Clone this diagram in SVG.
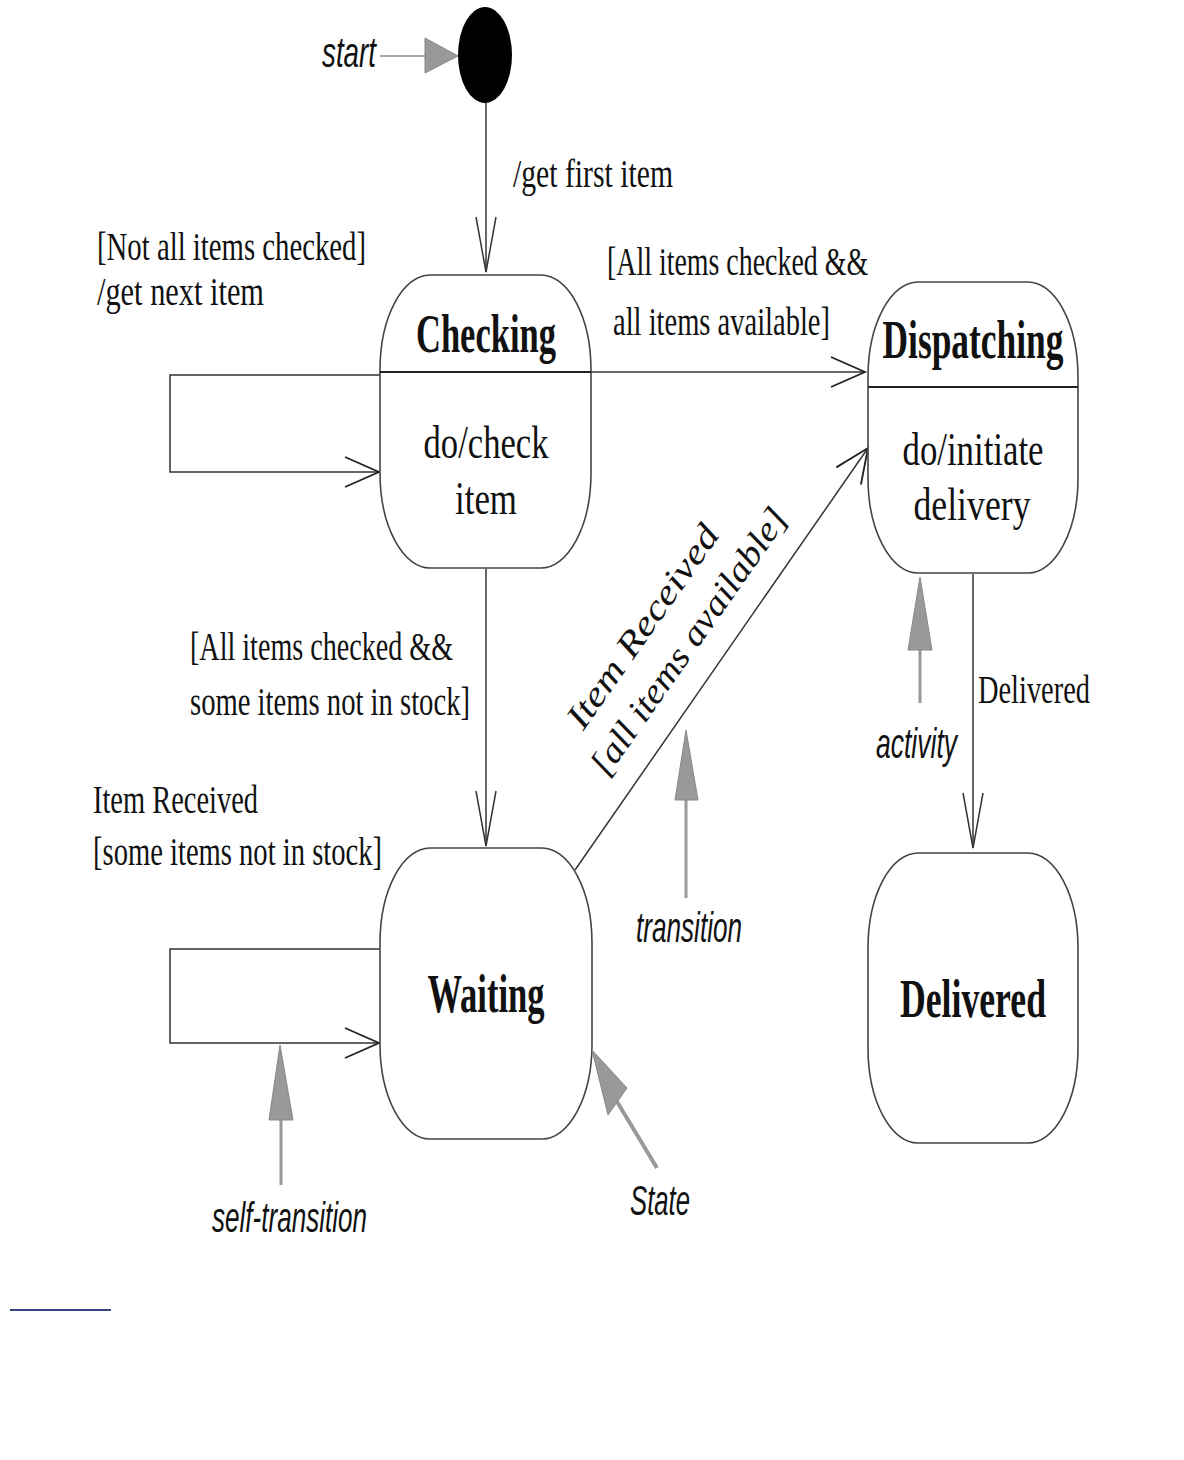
<svg xmlns="http://www.w3.org/2000/svg" width="1184" height="1460" viewBox="0 0 1184 1460">
<style>
.state{fill:#fff;stroke:#444;stroke-width:1.6}
.div{stroke:#222;stroke-width:1.8}
.tr{fill:none;stroke:#333;stroke-width:1.5}
.lbl{font-family:"Liberation Serif",serif;font-size:41px;fill:#111}
.ilbl{font-family:"Liberation Serif",serif;font-style:italic;font-size:35px;fill:#111}
.name{font-family:"Liberation Serif",serif;font-weight:bold;font-size:54px;fill:#111}
.act{font-family:"Liberation Serif",serif;font-size:46px;fill:#111}
.ann{font-family:"Liberation Sans",sans-serif;font-style:italic;font-size:42px;fill:#111}
.gl{stroke:#999;stroke-width:3;fill:none}
.gh{fill:#999;stroke:#888;stroke-width:1}
</style>
<defs>
<marker id="vv" markerUnits="userSpaceOnUse" viewBox="-60 -20 70 40" refX="0" refY="0" markerWidth="70" markerHeight="40" orient="auto">
<path d="M-55,-10 L0,0 L-55,10" fill="none" stroke="#333" stroke-width="1.5"/>
</marker>
<marker id="vh" markerUnits="userSpaceOnUse" viewBox="-40 -20 50 40" refX="0" refY="0" markerWidth="50" markerHeight="40" orient="auto">
<path d="M-34,-15 L0,0 L-34,15" fill="none" stroke="#222" stroke-width="1.8"/>
</marker>
</defs>

<g id="connectors">
<line x1="486" y1="103" x2="486" y2="272" class="tr" stroke="#777" marker-end="url(#vv)"/>
<polyline points="380,375 170,375 170,472 379,472" class="tr" stroke="#222" stroke-width="1.8" marker-end="url(#vh)"/>
<line x1="591" y1="372" x2="865" y2="372" class="tr" stroke="#222" stroke-width="1.8" marker-end="url(#vh)"/>
<line x1="486" y1="569" x2="486" y2="846" class="tr" stroke="#666" marker-end="url(#vv)"/>
<line x1="575" y1="870" x2="868" y2="448" class="tr" stroke="#555" stroke-width="1.3" marker-end="url(#vh)"/>
<polyline points="380,949 170,949 170,1043 379,1043" class="tr" stroke="#222" stroke-width="1.8" marker-end="url(#vh)"/>
<line x1="973" y1="574" x2="973" y2="848" class="tr" stroke="#777" marker-end="url(#vv)"/>
</g>

<g id="start">
<ellipse cx="485" cy="55" rx="27" ry="48" fill="#000"/>
</g>

<g id="checking">
<rect x="380" y="275" width="211" height="293" rx="50" ry="95" class="state"/>
<line x1="380" y1="372" x2="591" y2="372" class="div"/>
<text x="486" y="352" text-anchor="middle" class="name" textLength="140" lengthAdjust="spacingAndGlyphs">Checking</text>
<text x="486" y="458" text-anchor="middle" class="act" textLength="125" lengthAdjust="spacingAndGlyphs">do/check</text>
<text x="486" y="514" text-anchor="middle" class="act" textLength="62" lengthAdjust="spacingAndGlyphs">item</text>
</g>

<g id="dispatching">
<rect x="868" y="282" width="210" height="291" rx="50" ry="95" class="state"/>
<line x1="868" y1="387" x2="1078" y2="387" class="div"/>
<text x="973" y="358" text-anchor="middle" class="name" textLength="181" lengthAdjust="spacingAndGlyphs">Dispatching</text>
<text x="973" y="465" text-anchor="middle" class="act" textLength="141" lengthAdjust="spacingAndGlyphs">do/initiate</text>
<text x="972" y="520" text-anchor="middle" class="act" textLength="117" lengthAdjust="spacingAndGlyphs">delivery</text>
</g>

<g id="waiting">
<rect x="380" y="848" width="212" height="291" rx="50" ry="95" class="state"/>
<text x="486" y="1012" text-anchor="middle" class="name" textLength="117" lengthAdjust="spacingAndGlyphs">Waiting</text>
</g>

<g id="delivered">
<rect x="868" y="853" width="210" height="290" rx="50" ry="95" class="state"/>
<text x="973" y="1017" text-anchor="middle" class="name" textLength="146" lengthAdjust="spacingAndGlyphs">Delivered</text>
</g>

<g id="labels">
<text x="513" y="187" class="lbl" textLength="160" lengthAdjust="spacingAndGlyphs">/get first item</text>
<text x="97" y="260" class="lbl" textLength="269" lengthAdjust="spacingAndGlyphs">[Not all items checked]</text>
<text x="97" y="305" class="lbl" textLength="167" lengthAdjust="spacingAndGlyphs">/get next item</text>
<text transform="translate(607,275) scale(0.7,1)" class="lbl" textLength="373" lengthAdjust="spacingAndGlyphs">[All items checked &amp;&amp;</text>
<text transform="translate(613,335) scale(0.7,1)" class="lbl" textLength="310" lengthAdjust="spacingAndGlyphs">all items available]</text>
<text x="190" y="660" class="lbl" textLength="263" lengthAdjust="spacingAndGlyphs">[All items checked &amp;&amp;</text>
<text x="190" y="715" class="lbl" textLength="280" lengthAdjust="spacingAndGlyphs">some items not in stock]</text>
<text x="93" y="813" class="lbl" textLength="165" lengthAdjust="spacingAndGlyphs">Item Received</text>
<text x="93" y="865" class="lbl" textLength="289" lengthAdjust="spacingAndGlyphs">[some items not in stock]</text>
<text x="978" y="703" class="lbl" textLength="112" lengthAdjust="spacingAndGlyphs">Delivered</text>
<text transform="translate(652,633) rotate(-55)" text-anchor="middle" class="ilbl" textLength="240" lengthAdjust="spacingAndGlyphs">Item Received</text>
<text transform="translate(698,648) rotate(-55)" text-anchor="middle" class="ilbl" textLength="318" lengthAdjust="spacingAndGlyphs">[all items available]</text>
</g>

<g id="annotations">
<text x="322" y="67" class="ann" textLength="54" lengthAdjust="spacingAndGlyphs">start</text>
<line x1="380" y1="56" x2="426" y2="56" stroke="#888" stroke-width="1.6"/>
<polygon points="425,38 458,56 425,73" class="gh"/>
<line x1="920" y1="703" x2="920" y2="648" class="gl"/>
<polygon points="920,577 932,650 908,650" class="gh"/>
<text x="876" y="758" class="ann" textLength="81" lengthAdjust="spacingAndGlyphs">activity</text>
<line x1="686" y1="898" x2="686" y2="798" class="gl"/>
<polygon points="686,730 698,800 675,800" class="gh"/>
<text x="636" y="942" class="ann" textLength="106" lengthAdjust="spacingAndGlyphs">transition</text>
<line x1="281" y1="1185" x2="281" y2="1118" class="gl"/>
<polygon points="280,1045 293,1120 269,1120" class="gh"/>
<text x="212" y="1232" class="ann" textLength="155" lengthAdjust="spacingAndGlyphs">self-transition</text>
<line x1="657" y1="1168" x2="616" y2="1100" stroke="#999" stroke-width="4"/>
<polygon points="592,1050 627,1088 608,1115" class="gh"/>
<text x="630" y="1215" class="ann" textLength="60" lengthAdjust="spacingAndGlyphs">State</text>
</g>

<line x1="10" y1="1310" x2="111" y2="1310" stroke="#34467f" stroke-width="2"/>
</svg>
